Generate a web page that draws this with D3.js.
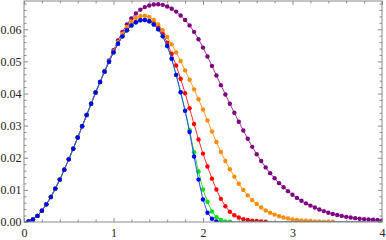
<!DOCTYPE html>
<html>
<head>
<meta charset="utf-8">
<script src="https://cdn.jsdelivr.net/npm/d3@7"></script>
<style>
  body { margin: 0; background: #fff; }
  svg { display: block; }
</style>
</head>
<body>
<div id="chart"></div>
<script>
// sample grid: x = 0, 0.05, ... 4
const xGrid = d3.range(0, 81).map(i => i * 0.05);

const blueVals = [
  0, 0.0002, 0.0008, 0.0019, 0.0035, 0.0055, 0.0078, 0.0104, 0.0132, 0.0163,
  0.0195, 0.0228, 0.0263, 0.0298, 0.0333, 0.0368, 0.0403, 0.0436, 0.0468, 0.0499,
  0.0528, 0.0555, 0.0578, 0.0597, 0.0612, 0.0622, 0.0628, 0.0629, 0.0625, 0.0615,
  0.0600, 0.0578, 0.0548, 0.0508, 0.0458, 0.0404, 0.0346, 0.0280, 0.0204, 0.0132,
  0.0070, 0.0029, 0.0010, 0.0002, 0, 0, 0, 0, 0, 0,
  0, 0, 0, 0, 0, 0, 0, 0, 0, 0,
  0, 0, 0, 0, 0, 0, 0, 0, 0, 0,
  0, 0, 0, 0, 0, 0, 0, 0, 0, 0,
  0
];

const greenVals = [
  0, 0.0002, 0.0008, 0.0019, 0.0035, 0.0055, 0.0078, 0.0104, 0.0132, 0.0163,
  0.0195, 0.0228, 0.0263, 0.0298, 0.0333, 0.0368, 0.0403, 0.0436, 0.0468, 0.0499,
  0.0528, 0.0555, 0.0578, 0.0597, 0.0612, 0.0622, 0.0628, 0.0629, 0.0625, 0.0615,
  0.0600, 0.0578, 0.0548, 0.0508, 0.0458, 0.0404, 0.0347, 0.0286, 0.0217, 0.0157,
  0.0101, 0.0063, 0.0033, 0.0015, 0.0006, 0.0002, 0.0001, 0, 0, 0,
  0, 0, 0, 0, 0, 0, 0, 0, 0, 0,
  0, 0, 0, 0, 0, 0, 0, 0, 0, 0,
  0, 0, 0, 0, 0, 0, 0, 0, 0, 0,
  0
];

const redVals = [
  0, 0.0002, 0.0008, 0.0019, 0.0035, 0.0055, 0.0078, 0.0104, 0.0132, 0.0163,
  0.0195, 0.0228, 0.0263, 0.0298, 0.0333, 0.0368, 0.0403, 0.0436, 0.0468, 0.0499,
  0.0528, 0.0555, 0.0578, 0.0597, 0.0612, 0.0622, 0.0628, 0.0629, 0.0625, 0.0617,
  0.0604, 0.0585, 0.0558, 0.0524, 0.0487, 0.0446, 0.0401, 0.0354, 0.0305, 0.0257,
  0.0213, 0.0173, 0.0135, 0.0101, 0.0072, 0.0049, 0.0032, 0.0021, 0.0014, 0.0009,
  0.0006, 0.0004, 0.0003, 0.0002, 0.0001, 0, 0, 0, 0, 0,
  0, 0, 0, 0, 0, 0, 0, 0, 0, 0,
  0, 0, 0, 0, 0, 0, 0, 0, 0, 0,
  0
];

const orangeVals = [
  0, 0.0002, 0.0008, 0.0019, 0.0035, 0.0055, 0.0078, 0.0104, 0.0132, 0.0163,
  0.0195, 0.0228, 0.0263, 0.0298, 0.0333, 0.0368, 0.0403, 0.0436, 0.0468, 0.0500,
  0.0531, 0.0560, 0.0586, 0.0607, 0.0624, 0.0635, 0.0641, 0.0642, 0.0638, 0.0629,
  0.0615, 0.0597, 0.0576, 0.0553, 0.0528, 0.0501, 0.0472, 0.0443, 0.0413, 0.0382,
  0.0350, 0.0316, 0.0282, 0.0249, 0.0218, 0.0190, 0.0164, 0.0141, 0.0119, 0.0100,
  0.0083, 0.0068, 0.0056, 0.0045, 0.0036, 0.0029, 0.0023, 0.0018, 0.0014, 0.0011,
  0.0008, 0.0006, 0.0005, 0.0004, 0.0003, 0.0002, 0.0002, 0.0001, 0.0001, 0.0001,
  0, 0, 0, 0, 0, 0, 0, 0, 0, 0,
  0
];

const purpleVals = [
  0, 0.0002, 0.0008, 0.0019, 0.0035, 0.0055, 0.0078, 0.0104, 0.0132, 0.0163,
  0.0195, 0.0228, 0.0263, 0.0298, 0.0333, 0.0368, 0.0403, 0.0436, 0.0470, 0.0503,
  0.0535, 0.0565, 0.0592, 0.0615, 0.0634, 0.0649, 0.0661, 0.0669, 0.0674, 0.0677,
  0.0678, 0.0676, 0.0671, 0.0664, 0.0655, 0.0643, 0.0629, 0.0612, 0.0592, 0.0569,
  0.0543, 0.0515, 0.0486, 0.0456, 0.0426, 0.0397, 0.0368, 0.0340, 0.0312, 0.0285,
  0.0259, 0.0234, 0.0211, 0.0190, 0.0170, 0.0152, 0.0136, 0.0121, 0.0108, 0.0096,
  0.0085, 0.0075, 0.0066, 0.0058, 0.0051, 0.0045, 0.0039, 0.0034, 0.0029, 0.0025,
  0.0022, 0.0019, 0.0016, 0.0014, 0.0012, 0.0010, 0.0009, 0.0008, 0.0007, 0.0006,
  0.0005
];

const xMajor = [0, 1, 2, 3, 4];
const yMajor = [0, 0.01, 0.02, 0.03, 0.04, 0.05, 0.06];

// bottom-most drawn first, blue on top
const series = [
  {name: "purple", color: "#800080", line: "#9a3a9a", values: purpleVals},
  {name: "orange", color: "#ff8c00", line: "#ff9a2a", values: orangeVals},
  {name: "red",    color: "#ff0000", line: "#ff2a2a", values: redVals},
  {name: "green",  color: "#00e000", line: "#2ae02a", values: greenVals},
  {name: "blue",   color: "#0000ff", line: "#2a4aff", values: blueVals}
];

const W = 386, H = 240;
const margin = {left: 24, right: 4, top: 1, bottom: 18};

const x = d3.scaleLinear().domain([0, 4]).range([margin.left, W - margin.right]);
const y = d3.scaleLinear().domain([0, 0.0688]).range([H - margin.bottom, margin.top]);

const svg = d3.select("#chart").append("svg")
    .attr("width", W)
    .attr("height", H);

svg.append("defs").append("clipPath").attr("id", "plotClip")
    .append("rect")
    .attr("x", x(0)).attr("y", y.range()[1])
    .attr("width", x(4) - x(0)).attr("height", y(0) - y.range()[1]);

/*  frame ticks, all pointing inward  */
const frameColor = "#8a8a8a";
const xMinor = d3.range(0, 21).map(i => i * 0.2).filter(v => Math.abs(v - Math.round(v)) > 1e-6);
const yMinor = d3.range(0, 35).map(i => i * 0.002).filter(v => Math.abs(v * 100 - Math.round(v * 100)) > 1e-6);

function styleAxis(g) {
    g.attr("font-family", "'Liberation Serif', 'DejaVu Serif', serif")
     .attr("font-size", 12);
    g.select(".domain").remove();
    g.selectAll(".tick line").attr("stroke", frameColor);
    g.selectAll(".tick text").attr("fill", "#222");
}

// bottom
svg.append("g").attr("transform", "translate(0," + y(0) + ")")
    .call(d3.axisBottom(x).tickValues(xMajor).tickSize(-4).tickPadding(6).tickFormat(d3.format("d")))
    .call(styleAxis);
svg.append("g").attr("transform", "translate(0," + y(0) + ")")
    .call(d3.axisBottom(x).tickValues(xMinor).tickSize(-2.5).tickFormat(""))
    .call(styleAxis);
// top
svg.append("g").attr("transform", "translate(0," + y.range()[1] + ")")
    .call(d3.axisTop(x).tickValues(xMajor).tickSize(-4).tickFormat(""))
    .call(styleAxis);
svg.append("g").attr("transform", "translate(0," + y.range()[1] + ")")
    .call(d3.axisTop(x).tickValues(xMinor).tickSize(-2.5).tickFormat(""))
    .call(styleAxis);
// left
svg.append("g").attr("transform", "translate(" + x(0) + ",0)")
    .call(d3.axisLeft(y).tickValues(yMajor).tickSize(-4).tickPadding(2.5).tickFormat(d3.format(".2f")))
    .call(styleAxis);
svg.append("g").attr("transform", "translate(" + x(0) + ",0)")
    .call(d3.axisLeft(y).tickValues(yMinor).tickSize(-2.5).tickFormat(""))
    .call(styleAxis);
// right
svg.append("g").attr("transform", "translate(" + x(4) + ",0)")
    .call(d3.axisRight(y).tickValues(yMajor).tickSize(-4).tickFormat(""))
    .call(styleAxis);
svg.append("g").attr("transform", "translate(" + x(4) + ",0)")
    .call(d3.axisRight(y).tickValues(yMinor).tickSize(-2.5).tickFormat(""))
    .call(styleAxis);

/*  curves  */
const plot = svg.append("g").attr("clip-path", "url(#plotClip)");
const line = d3.line()
    .x((d, i) => x(xGrid[i]))
    .y(d => y(d));

series.forEach(function(s) {
    plot.append("path")
        .datum(s.values)
        .attr("fill", "none")
        .attr("stroke", s.line)
        .attr("stroke-width", 1)
        .attr("d", line);

    plot.selectAll(".pt-" + s.name)
        .data(s.values.map((v, i) => ({x: xGrid[i], v: v})).filter(d => d.v > 0))
        .enter().append("circle")
        .attr("class", "pt-" + s.name)
        .attr("cx", d => x(d.x))
        .attr("cy", d => y(d.v))
        .attr("r", 2.2)
        .attr("fill", s.color);
});

/*  frame  */
svg.append("rect")
    .attr("x", x(0)).attr("y", y.range()[1])
    .attr("width", x(4) - x(0)).attr("height", y(0) - y.range()[1])
    .attr("fill", "none")
    .attr("stroke", frameColor)
    .attr("stroke-width", 1);
</script>
</body>
</html>
